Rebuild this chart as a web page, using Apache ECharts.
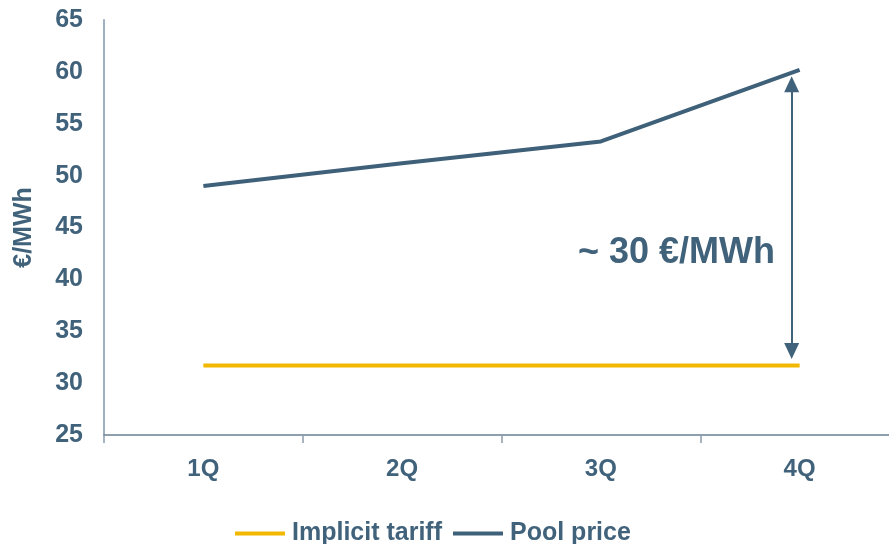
<!DOCTYPE html>
<html>
<head>
<meta charset="utf-8">
<script src="https://cdn.jsdelivr.net/npm/echarts@6/dist/echarts.min.js"></script>
<style>
  html, body { margin: 0; padding: 0; background: #ffffff; }
  #chart { width: 889px; height: 544px; }
</style>
</head>
<body>
<div id="chart"></div>
<script>
// Quarterly price comparison data
const quarters = ['1Q', '2Q', '3Q', '4Q'];
const implicitTariff = [31.7, 31.7, 31.7, 31.7];
const poolPrice = [49.0, 51.2, 53.3, 60.2];
// Gap arrow, placed on a hidden numeric x axis (category index units)
const gapArrow = { x: 2.96, top: 58.8, bottom: 33.1 };
const gapLabel = '~ 30 €/MWh';
const yTicks = { min: 25, max: 65, step: 5 };

const textColor = '#41627b';
const poolColor = '#3f6079';
const tariffColor = '#f2b800';
const font = '"Liberation Sans", Arial, sans-serif';

const chart = echarts.init(document.getElementById('chart'), null, { renderer: 'canvas' });

chart.setOption({
  animation: false,
  backgroundColor: '#ffffff',
  grid: { left: 104, width: 795, top: 20, height: 415, containLabel: false, outerBoundsMode: 'none' },
  legend: {
    left: 230,
    top: 516,
    itemWidth: 50,
    itemHeight: 4,
    itemGap: 11,
    icon: 'rect',
    textStyle: { color: textColor, fontFamily: font, fontWeight: 'bold', fontSize: 25, padding: [0, 0, 0, 2] },
    data: ['Implicit tariff', 'Pool price']
  },
  xAxis: [
    {
      type: 'category',
      data: quarters,
      boundaryGap: true,
      axisLine: { onZero: false, lineStyle: { color: '#6a8192', width: 1.5 } },
      axisTick: { show: true, length: 8, lineStyle: { color: '#8a9cab', width: 1.5 } },
      axisLabel: { color: textColor, fontFamily: font, fontWeight: 'bold', fontSize: 24, margin: 22 }
    },
    {
      type: 'value',
      show: false,
      min: -0.5,
      max: quarters.length - 0.5
    }
  ],
  yAxis: {
    type: 'value',
    min: yTicks.min,
    max: yTicks.max,
    interval: yTicks.step,
    name: '€/MWh',
    nameLocation: 'middle',
    nameGap: 67,
    nameRotate: 90,
    nameTextStyle: { color: textColor, fontFamily: font, fontWeight: 'bold', fontSize: 25 },
    axisLine: { show: true, onZero: false, lineStyle: { color: '#a0b0bf', width: 2 } },
    axisTick: { show: false },
    splitLine: { show: false },
    axisLabel: { color: textColor, fontFamily: font, fontWeight: 'bold', fontSize: 25, margin: 21 }
  },
  series: [
    {
      name: 'Implicit tariff',
      type: 'line',
      data: implicitTariff,
      symbol: 'none',
      itemStyle: { color: tariffColor },
      lineStyle: { color: tariffColor, width: 4 }
    },
    {
      name: 'Pool price',
      type: 'line',
      data: poolPrice,
      symbol: 'none',
      itemStyle: { color: poolColor },
      lineStyle: { color: poolColor, width: 4 }
    },
    {
      name: 'gap',
      type: 'line',
      xAxisIndex: 1,
      data: [[gapArrow.x, gapArrow.top], [gapArrow.x, gapArrow.bottom]],
      symbol: 'none',
      lineStyle: { opacity: 0 },
      silent: true,
      markLine: {
        silent: true,
        symbol: ['triangle', 'triangle'],
        symbolSize: [15, 16],
        label: { show: false },
        lineStyle: { color: textColor, width: 2, type: 'solid' },
        data: [[
          { coord: [gapArrow.x, gapArrow.top] },
          { coord: [gapArrow.x, gapArrow.bottom] }
        ]]
      }
    }
  ],
  graphic: [{
    type: 'text',
    x: 775,
    y: 253,
    style: {
      text: gapLabel,
      fill: textColor,
      font: 'bold 36px ' + font,
      align: 'right',
      verticalAlign: 'middle'
    }
  }]
});
</script>
</body>
</html>
